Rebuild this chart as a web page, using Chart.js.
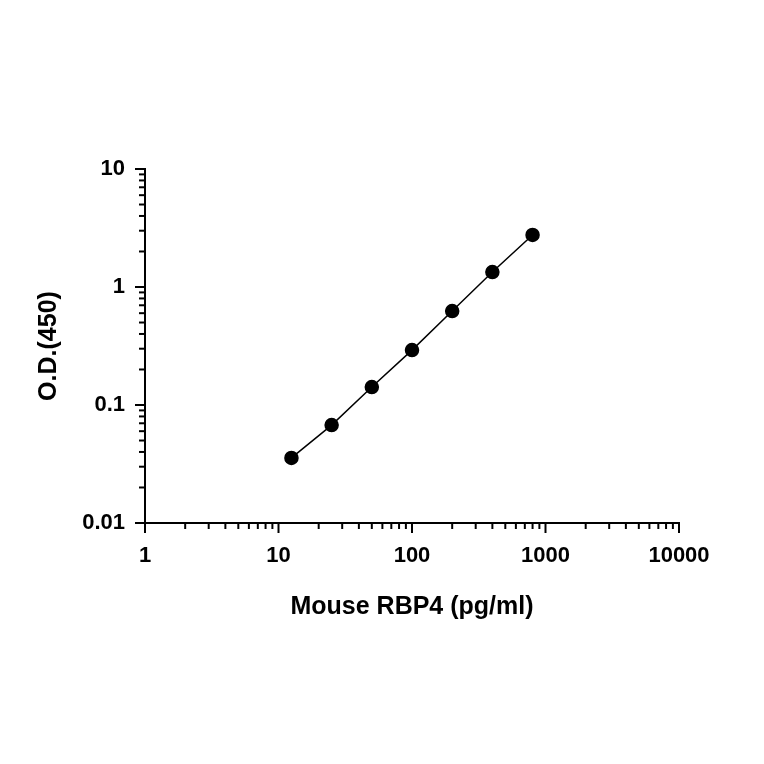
<!DOCTYPE html>
<html><head><script src="https://cdn.jsdelivr.net/npm/chart.js@4"></script>
<style>body{margin:0;background:#fff}#c{display:block}</style></head>
<body><canvas id="c" width="764" height="764"></canvas>
<script>
const concentrations=[12.5,25,50,100,200,400,800];
const odValues=[0.0356,0.0676,0.142,0.292,0.626,1.34,2.76];
const xMajor=[1,10,100,1000,10000];
const yMajor=[0.01,0.1,1,10];
const fmt=v=>String(Number(v.toPrecision(3)));
const tickPlugin={id:'ticks',afterDraw(ch){
 const c=ch.ctx,xs=ch.scales.x,ys=ch.scales.y;
 c.save();c.strokeStyle='#000';c.lineWidth=2;
 const b=ys.bottom,l=xs.left;
 for(let e=0;e<4;e++)for(let m=1;m<10;m++){const v=Math.pow(10,e)*m;
  const p=xs.getPixelForValue(v);const L=m===1?10:6;c.beginPath();c.moveTo(p,b);c.lineTo(p,b+L);c.stroke();}
 {const p=xs.getPixelForValue(10000);c.beginPath();c.moveTo(p,b);c.lineTo(p,b+10);c.stroke();}
 for(let e=-2;e<1;e++)for(let m=1;m<10;m++){const v=Math.pow(10,e)*m;
  const p=ys.getPixelForValue(v);const L=m===1?10:6;c.beginPath();c.moveTo(l,p);c.lineTo(l-L,p);c.stroke();}
 {const p=ys.getPixelForValue(10);c.beginPath();c.moveTo(l,p);c.lineTo(l-10,p);c.stroke();}
 c.restore();}};
new Chart(document.getElementById('c'),{type:'scatter',
 data:{datasets:[{data:concentrations.map((x,i)=>({x,y:odValues[i]})),showLine:true,borderColor:'#000',borderWidth:1.5,
  backgroundColor:'#000',pointRadius:6.5,pointHoverRadius:6.5}]},
 options:{responsive:false,animation:false,events:[],
  layout:{padding:{left:30,top:169,right:85,bottom:142}},
  plugins:{legend:{display:false},tooltip:{enabled:false}},
  scales:{
   x:{type:'logarithmic',min:1,max:10000,afterFit(s){s.height=764-523-142;},
    afterBuildTicks(s){s.ticks=xMajor.map(v=>({value:v}));},
    grid:{display:false},border:{display:true,color:'#000',width:2},
    ticks:{padding:12,color:'#000',font:{family:'Liberation Sans',size:22,weight:'bold'},callback:v=>fmt(v),maxRotation:0,autoSkip:false},
    title:{display:true,text:'Mouse RBP4 (pg/ml)',color:'#000',font:{family:'Liberation Sans',size:25,weight:'bold'},padding:{top:4,bottom:0}}},
   y:{type:'logarithmic',min:0.01,max:10,afterFit(s){s.width=115;},
    afterBuildTicks(s){s.ticks=yMajor.map(v=>({value:v}));},
    grid:{display:false},border:{display:true,color:'#000',width:2},
    ticks:{padding:12,color:'#000',font:{family:'Liberation Sans',size:22,weight:'bold'},callback:v=>fmt(v),autoSkip:false},
    title:{display:true,text:'O.D.(450)',color:'#000',font:{family:'Liberation Sans',size:25,weight:'bold'},padding:{bottom:0}}}}},
 plugins:[tickPlugin]});
</script></body></html>
